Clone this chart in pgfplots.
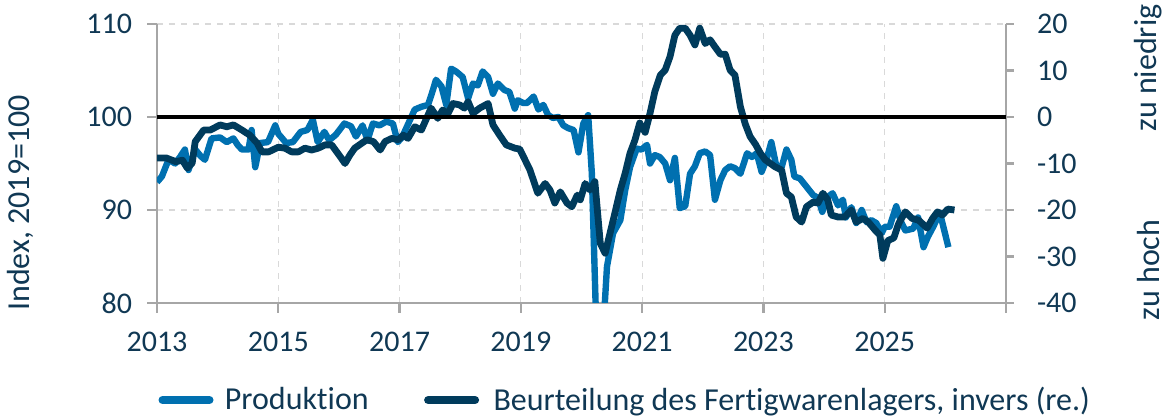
\documentclass[border=0pt]{standalone}
\usepackage{fontspec}
\setmainfont{Carlito}[Ligatures=NoCommon]
\usepackage{pgfplots}
\pgfplotsset{compat=1.18}
\definecolor{prod}{RGB}{0,112,176}
\definecolor{lager}{RGB}{0,59,92}
\definecolor{txt}{RGB}{16,56,84}
\definecolor{axgray}{RGB}{166,166,166}
\definecolor{grd}{RGB}{217,217,217}
\newcommand{\lf}{\fontsize{16}{19}\selectfont}
\newcommand{\lgf}{\fontsize{16}{19}\selectfont}
\begin{document}
\begin{tikzpicture}
\useasboundingbox (-78.5pt,-56.5pt) rectangle (504pt,151.5pt);
\pgfplotsset{
  base/.style={
    at={(0,0)}, anchor=south west,
    scale only axis, width=424.5pt, height=139.5pt,
    xmin=2013, xmax=2027,
    /pgf/number format/assume math mode=true,
    /pgf/number format/1000 sep={},
    tick label style={font=\fontsize{15}{18}\selectfont, text=txt},
    tick align=outside,
    axis line style={draw=axgray, line width=1.2pt, -},
    tick style={draw=axgray, line width=1.2pt},
    clip=true,
  }
}
\begin{axis}[base,
  axis x line*=bottom, axis y line*=left,
  ymin=80, ymax=110, ytick={80,90,100,110},
  xtick={2013,2015,...,2027},
  xticklabels={2013,2015,2017,2019,2021,2023,2025,{}},
  major tick length=5pt,
  ymajorgrids, xmajorgrids,
  grid style={draw=grd, dashed, line width=0.6pt},
  xticklabel style={yshift=-6pt},
  yticklabel style={xshift=-4pt},
]
\addplot[prod, line width=3.2pt, line join=round] coordinates {
(2013.00,93.0)(2013.08,93.6)(2013.19,95.4)(2013.30,95.0)(2013.38,95.7)(2013.46,96.5)(2013.52,94.3)(2013.63,96.5)(2013.72,95.8)(2013.79,95.4)(2013.90,97.7)
(2014.04,97.8)(2014.15,97.3)(2014.26,97.7)(2014.33,97.0)(2014.40,96.5)(2014.51,96.5)(2014.56,98.6)(2014.62,94.6)(2014.70,97.2)(2014.83,97.3)(2014.95,99.1)
(2015.00,98.2)(2015.13,97.2)(2015.24,97.3)(2015.37,98.4)(2015.48,98.6)(2015.57,99.7)(2015.65,97.3)(2015.76,98.4)(2015.84,97.5)(2015.95,98.1)
(2016.09,99.3)(2016.20,99.0)(2016.28,97.9)(2016.39,99.1)(2016.47,97.5)(2016.56,99.3)(2016.67,99.1)(2016.78,99.5)(2016.89,99.3)(2016.97,97.3)
(2017.04,97.8)(2017.11,98.8)(2017.25,100.8)(2017.36,101.1)(2017.47,101.3)(2017.55,102.9)(2017.60,104.0)(2017.69,103.3)(2017.77,101.3)(2017.85,105.2)(2017.93,104.9)
(2018.04,104.3)(2018.13,102.0)(2018.21,103.6)(2018.29,103.4)(2018.37,104.9)(2018.46,104.3)(2018.54,102.5)(2018.62,103.6)(2018.73,102.9)(2018.81,102.7)(2018.90,100.9)(2018.95,101.8)
(2019.04,101.5)(2019.10,101.5)(2019.21,102.2)(2019.29,100.8)(2019.37,101.3)(2019.45,100.2)(2019.53,99.9)(2019.62,100.0)(2019.70,99.1)(2019.78,98.8)(2019.87,98.6)(2019.95,96.2)
(2020.03,99.3)(2020.11,100.2)(2020.17,94.0)(2020.25,76.0)(2020.33,74.0)(2020.42,83.9)(2020.52,87.5)(2020.64,88.9)(2020.72,92.1)(2020.80,94.6)(2020.91,96.6)(2020.99,96.5)
(2021.08,97.0)(2021.13,95.0)(2021.21,95.9)(2021.29,95.7)(2021.38,95.0)(2021.46,93.2)(2021.54,95.6)(2021.62,90.2)(2021.71,90.4)(2021.79,93.9)(2021.87,94.7)(2021.95,96.1)
(2022.04,96.3)(2022.12,95.9)(2022.20,91.1)(2022.29,93.2)(2022.37,94.3)(2022.45,94.7)(2022.53,94.5)(2022.62,93.9)(2022.73,96.1)(2022.81,95.7)(2022.89,96.1)(2022.97,94.1)
(2023.05,95.4)(2023.13,97.3)(2023.21,94.8)(2023.30,94.6)(2023.38,96.5)(2023.46,95.4)(2023.51,93.6)(2023.60,93.4)(2023.71,92.5)(2023.82,91.6)(2023.90,91.3)(2023.97,89.8)
(2024.06,91.4)(2024.14,91.8)(2024.23,90.5)(2024.31,91.1)(2024.36,89.2)(2024.45,90.3)(2024.53,88.6)(2024.62,90.0)(2024.70,88.7)(2024.78,88.9)(2024.86,88.6)(2024.95,87.5)
(2025.00,88.2)(2025.08,88.2)(2025.19,90.4)(2025.27,88.7)(2025.34,87.8)(2025.47,88.0)(2025.55,89.2)(2025.64,86.0)(2025.71,87.1)(2025.80,88.2)(2025.91,89.7)(2026.05,86.0)
};
\end{axis}
\begin{axis}[base,
  axis x line=none, axis y line*=right,
  ymin=-40, ymax=20, ytick={-40,-30,...,20},
  major tick length=4pt,
  yticklabel style={xshift=8pt},
  legend style={at={(0.5524,-0.348)}, anchor=center, draw=none, fill=none,
    nodes={font=\lgf, text=txt},
    legend columns=2, column sep=0pt,
    /tikz/column 2/.style={column sep=24pt}},
  legend cell align=left,
  legend image code/.code={\draw[#1, line width=4pt, line cap=round] (2pt,0pt) -- (25.5pt,0pt); \path (0pt,0pt) (31pt,0pt);},
]
\addlegendimage{prod}
\addlegendentry{\lgf Produktion}
\addplot[lager, line width=3.4pt, line join=round] coordinates {
(2013.00,-8.8)(2013.15,-8.8)(2013.31,-9.6)(2013.42,-9.3)(2013.50,-11.0)(2013.58,-9.9)(2013.63,-5.3)(2013.77,-2.8)(2013.88,-2.8)
(2014.04,-1.7)(2014.15,-2.1)(2014.26,-1.7)(2014.40,-2.8)(2014.53,-3.9)(2014.65,-5.6)(2014.73,-7.5)(2014.84,-7.5)
(2015.00,-6.5)(2015.11,-6.7)(2015.22,-7.5)(2015.33,-7.5)(2015.44,-6.7)(2015.55,-7.1)(2015.66,-6.7)(2015.77,-6.0)(2015.88,-6.0)
(2016.02,-8.5)(2016.10,-10.0)(2016.18,-8.2)(2016.26,-6.7)(2016.37,-5.7)(2016.46,-4.9)(2016.57,-5.3)(2016.68,-7.1)(2016.76,-5.3)(2016.87,-4.6)(2016.98,-4.9)
(2017.06,-3.9)(2017.14,-4.6)(2017.25,-2.1)(2017.36,-2.8)(2017.52,1.9)(2017.63,-0.3)(2017.71,1.5)(2017.80,0.8)(2017.88,2.9)(2017.99,2.6)
(2018.07,1.9)(2018.13,3.3)(2018.21,0.8)(2018.32,1.9)(2018.46,2.9)(2018.54,-1.7)(2018.65,-3.9)(2018.76,-6.0)(2018.90,-6.7)(2018.98,-6.9)
(2019.06,-9.0)(2019.15,-11.4)(2019.28,-16.4)(2019.40,-14.3)(2019.48,-15.7)(2019.56,-18.5)(2019.65,-16.1)(2019.76,-18.5)(2019.84,-19.3)(2019.93,-16.8)(2019.98,-17.8)
(2020.06,-14.3)(2020.14,-15.7)(2020.22,-13.9)(2020.31,-27.2)(2020.39,-29.3)(2020.47,-25.0)(2020.55,-20.7)(2020.64,-15.7)(2020.72,-12.1)(2020.80,-7.8)(2020.88,-5.0)(2020.96,-1.3)
(2021.05,-3.3)(2021.13,0.8)(2021.21,5.5)(2021.30,9.0)(2021.38,10.1)(2021.46,13.0)(2021.54,17.6)(2021.62,19.1)(2021.71,19.1)(2021.79,17.6)(2021.87,15.5)(2021.95,19.1)
(2022.04,15.8)(2022.12,16.6)(2022.20,15.1)(2022.29,13.5)(2022.37,13.5)(2022.45,10.1)(2022.53,9.0)(2022.62,2.2)(2022.70,-1.5)(2022.78,-4.2)(2022.87,-5.9)(2022.95,-7.8)
(2023.03,-9.2)(2023.19,-10.7)(2023.30,-11.4)(2023.38,-16.4)(2023.46,-17.2)(2023.54,-21.5)(2023.63,-22.6)(2023.71,-19.3)(2023.82,-18.3)(2023.90,-18.5)(2023.98,-16.4)
(2024.06,-17.8)(2024.12,-21.1)(2024.23,-21.5)(2024.34,-21.5)(2024.45,-20.0)(2024.53,-22.6)(2024.64,-21.8)(2024.73,-22.6)(2024.84,-24.3)(2024.92,-25.4)(2024.97,-30.4)
(2025.05,-26.6)(2025.15,-26.0)(2025.23,-22.9)(2025.34,-20.4)(2025.45,-21.8)(2025.56,-22.2)(2025.70,-23.9)(2025.79,-21.8)(2025.87,-20.4)(2025.95,-21.1)(2026.04,-19.8)(2026.15,-20.0)
};
\addlegendentry{\lgf Beurteilung des Fertigwarenlagers, invers (re.)}
\addplot[black, line width=2pt, forget plot] coordinates {(2013,0)(2027,0)};
\end{axis}
\node[rotate=90, text=txt, font=\lf] at (-68.5pt,50pt) {Index, 2019=100};
\node[rotate=90, text=txt, font=\lf] at (495.5pt,117.5pt) {zu niedrig};
\node[rotate=90, text=txt, font=\lf] at (495.5pt,16.5pt) {zu hoch};
\end{tikzpicture}
\end{document}
